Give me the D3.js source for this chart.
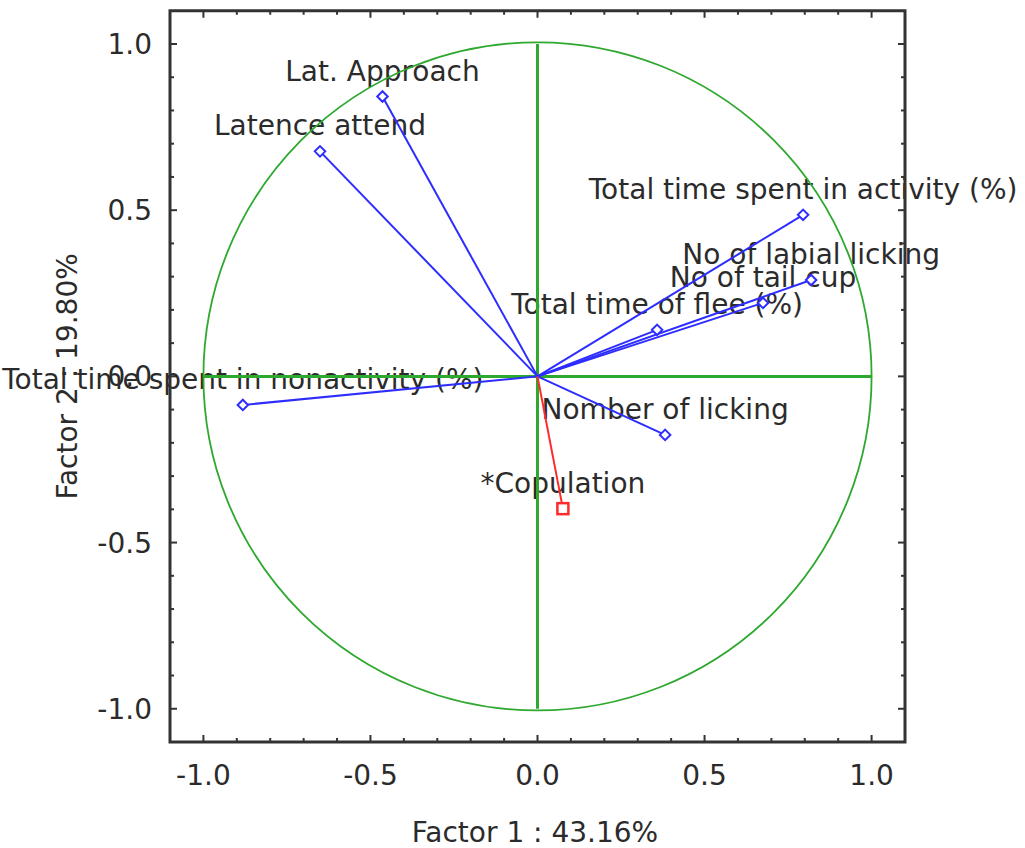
<!DOCTYPE html>
<html>
<head>
<meta charset="utf-8">
<script src="https://cdn.jsdelivr.net/npm/d3@7"></script>
<style>
  html, body { margin: 0; padding: 0; background: #fff; }
  text { font-family: "DejaVu Sans", Verdana, sans-serif; fill: #2b2b2b; }
</style>
</head>
<body>
<svg id="chart" width="1025" height="848"></svg>
<script>
// Factor loadings (Factor 1, Factor 2) for each variable
const variables = [
  "Lat. Approach",
  "Latence attend",
  "Total time spent in activity (%)",
  "No of labial licking",
  "No of tail cup",
  "Total time of flee (%)",
  "Total time spent in nonactivity (%)",
  "Nomber of licking",
  "*Copulation"
];
const factor1 = [-0.464, -0.651, 0.795, 0.819, 0.675, 0.358, -0.882, 0.382, 0.076];
const factor2 = [0.842, 0.677, 0.486, 0.290, 0.221, 0.140, -0.086, -0.176, -0.398];
// supplementary variable drawn in red
const supplementary = [false, false, false, false, false, false, false, false, true];

const tickValues = [-1.0, -0.5, 0.0, 0.5, 1.0];
const tickLabels = ["-1.0", "-0.5", "0.0", "0.5", "1.0"];
const xTitle = "Factor 1 : 43.16%";
const yTitle = "Factor 2 : 19.80%";

const svg = d3.select("#chart");
const plotLeft = 170, plotRight = 905, plotTop = 10.75, plotBottom = 742;

const x = d3.scaleLinear().domain([-1.1, 1.1]).range([plotLeft, plotRight]);
const y = d3.scaleLinear().domain([-1.1, 1.1]).range([plotBottom, plotTop]);

const frameColor = "#333";
const green = "#2ea82e";
const blue = "#2d2dff";
const red = "#ff2b2b";

// minor ticks every 0.1, major every 0.5
const minor = d3.range(-10, 11).map(d => d / 10);
const isMajor = v => Math.abs(v * 2 - Math.round(v * 2)) < 1e-6;

const ticks = svg.append("g");
minor.forEach(v => {
  const len = isMajor(v) ? 7 : 4;
  ticks.append("line").attr("x1", x(v)).attr("x2", x(v)).attr("y1", plotBottom).attr("y2", plotBottom - len);
  ticks.append("line").attr("x1", x(v)).attr("x2", x(v)).attr("y1", plotTop).attr("y2", plotTop + len);
  ticks.append("line").attr("y1", y(v)).attr("y2", y(v)).attr("x1", plotLeft).attr("x2", plotLeft + len);
  ticks.append("line").attr("y1", y(v)).attr("y2", y(v)).attr("x1", plotRight).attr("x2", plotRight - len);
});
ticks.selectAll("line").attr("stroke", frameColor).attr("stroke-width", 2);

// tick labels
svg.append("g").selectAll("text").data(tickValues).join("text")
  .attr("x", d => x(d)).attr("y", plotBottom + 43)
  .attr("text-anchor", "middle").attr("font-size", 28)
  .text((d, i) => tickLabels[i]);
svg.append("g").selectAll("text").data(tickValues).join("text")
  .attr("x", plotLeft - 18).attr("y", d => y(d) + 10)
  .attr("text-anchor", "end").attr("font-size", 28)
  .text((d, i) => tickLabels[i]);

// axis titles
svg.append("text").attr("x", 535).attr("y", 842)
  .attr("text-anchor", "middle").attr("font-size", 28).text(xTitle);
svg.append("text").attr("transform", `translate(77,${y(0)}) rotate(-90)`)
  .attr("text-anchor", "middle").attr("font-size", 28).text(yTitle);

// variable labels, centred above each point
svg.append("g").selectAll("text").data(variables).join("text")
  .attr("x", (d, i) => x(factor1[i]))
  .attr("y", (d, i) => y(factor2[i]) - 16)
  .attr("text-anchor", "middle").attr("font-size", 28)
  .text(d => d);

// correlation circle and axes
svg.append("circle")
  .attr("cx", x(0)).attr("cy", y(0)).attr("r", x(1) - x(0))
  .attr("fill", "none").attr("stroke", green).attr("stroke-width", 1.8);
svg.append("line").attr("x1", x(-1)).attr("x2", x(1)).attr("y1", y(0)).attr("y2", y(0))
  .attr("stroke", green).attr("stroke-width", 3);
svg.append("line").attr("x1", x(0)).attr("x2", x(0)).attr("y1", y(1)).attr("y2", y(-1))
  .attr("stroke", green).attr("stroke-width", 3);

// vectors from origin
const idx = d3.range(variables.length);
svg.append("g").selectAll("line").data(idx).join("line")
  .attr("x1", x(0)).attr("y1", y(0))
  .attr("x2", i => x(factor1[i])).attr("y2", i => y(factor2[i]))
  .attr("stroke", i => supplementary[i] ? red : blue)
  .attr("stroke-width", 2);

// point markers
const diamond = d3.symbol().type(d3.symbolDiamond2).size(70);
svg.append("g").selectAll("path").data(idx.filter(i => !supplementary[i])).join("path")
  .attr("transform", i => `translate(${x(factor1[i])},${y(factor2[i])})`)
  .attr("d", diamond)
  .attr("fill", "#fff").attr("stroke", blue).attr("stroke-width", 2);
svg.append("g").selectAll("rect").data(idx.filter(i => supplementary[i])).join("rect")
  .attr("x", i => x(factor1[i]) - 5.5).attr("y", i => y(factor2[i]) - 5.5)
  .attr("width", 11).attr("height", 11)
  .attr("fill", "#fff").attr("stroke", red).attr("stroke-width", 2.5);

// plot frame
svg.append("rect")
  .attr("x", plotLeft).attr("y", plotTop).attr("width", plotRight - plotLeft).attr("height", plotBottom - plotTop)
  .attr("fill", "none").attr("stroke", frameColor).attr("stroke-width", 3);
</script>
</body>
</html>
